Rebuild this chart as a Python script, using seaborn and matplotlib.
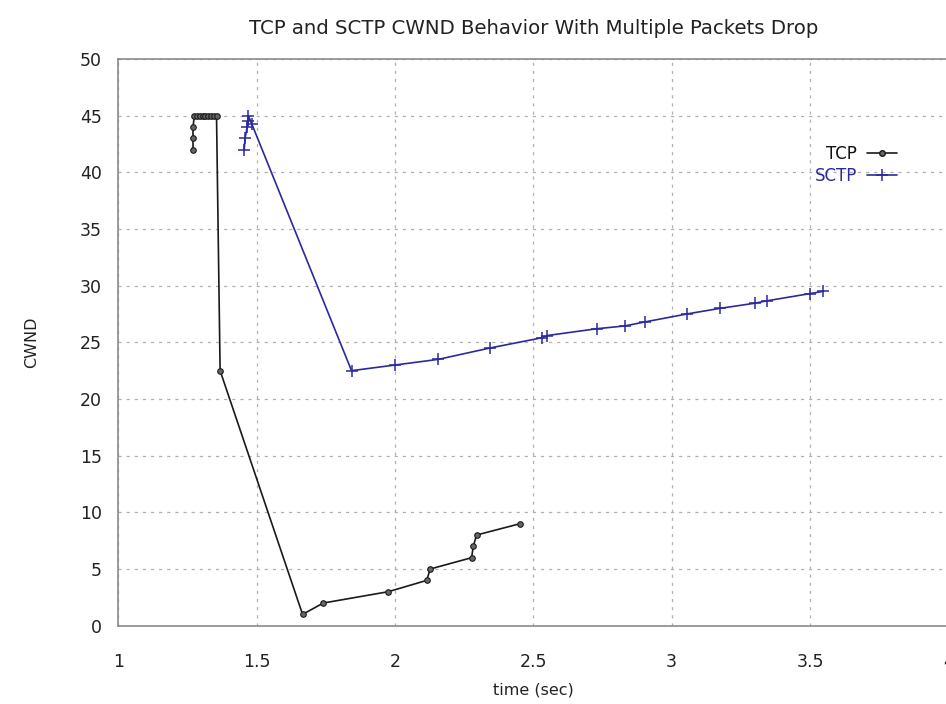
import matplotlib
matplotlib.use("Agg")
import matplotlib.pyplot as plt
import seaborn as sns
import pandas as pd

# ---- data ----
tcp_time = [1.27, 1.27, 1.27, 1.275, 1.285, 1.295, 1.305, 1.315, 1.325, 1.335, 1.345, 1.355,
            1.368, 1.666, 1.741, 1.976, 2.115, 2.127, 2.277, 2.283, 2.295, 2.452]
tcp_cwnd = [42, 43, 44, 45, 45, 45, 45, 45, 45, 45, 45, 45,
            22.5, 1, 2, 3, 4, 5, 6, 7, 8, 9]

sctp_time = [1.455, 1.458, 1.466, 1.47, 1.47, 1.482, 1.843, 2.0, 2.157, 2.343, 2.53, 2.55,
             2.729, 2.831, 2.903, 3.054, 3.175, 3.30, 3.343, 3.50, 3.548]
sctp_cwnd = [42, 43, 44, 44.5, 45, 44.3, 22.5, 23, 23.5, 24.5, 25.4, 25.6,
             26.2, 26.45, 26.8, 27.5, 28, 28.45, 28.66, 29.3, 29.5]

x_ticks = [1, 1.5, 2, 2.5, 3, 3.5, 4]
x_tick_labels = ["1", "1.5", "2", "2.5", "3", "3.5", "4"]
y_ticks = [0, 5, 10, 15, 20, 25, 30, 35, 40, 45, 50]

title = "TCP and SCTP CWND Behavior With Multiple Packets Drop"
xlabel = "time (sec)"
ylabel = "CWND"

sns.set_theme(style="white")
plt.rcParams['font.family'] = ['DejaVu Sans']

fig = plt.figure(figsize=(9.46, 7.04), dpi=100)
ax = fig.add_axes([118.3 / 946, 78.3 / 704, 830 / 946, (625.7 - 59) / 704])

tcp_df = pd.DataFrame({"time": tcp_time, "cwnd": tcp_cwnd})
sctp_df = pd.DataFrame({"time": sctp_time, "cwnd": sctp_cwnd})

tcp_color = "#1a1a1a"
sctp_color = "#2a2a9c"

sns.lineplot(data=tcp_df, x="time", y="cwnd", sort=False, estimator=None, ax=ax,
             color=tcp_color, lw=1.2, marker="o", markersize=4,
             markerfacecolor="#666666", markeredgecolor=tcp_color, markeredgewidth=0.8)
sns.lineplot(data=sctp_df, x="time", y="cwnd", sort=False, estimator=None, ax=ax,
             color=sctp_color, lw=1.2, marker="+", markersize=8,
             markeredgecolor=sctp_color, markeredgewidth=1.1)

ax.set_xlim(1, 4)
ax.set_ylim(0, 50)
ax.set_xticks(x_ticks)
ax.set_xticklabels(x_tick_labels)
ax.set_yticks(y_ticks)

ax.grid(True, color="#b0b0b0", linestyle=(0, (2.5, 4)), linewidth=0.9)
for s in ax.spines.values():
    s.set_color("#8a8a8a")
    s.set_linewidth(1.2)

ax.tick_params(axis="both", direction="in", length=4, color="#555555",
               labelsize=12.5, labelcolor="#222222")
ax.tick_params(axis="x", pad=20)
ax.tick_params(axis="y", pad=12)

ax.set_title(title, fontsize=14.2, color="#222222", pad=18)
ax.set_xlabel(xlabel, fontsize=11.5, color="#222222", labelpad=8)
ax.set_ylabel(ylabel, fontsize=11.5, color="#222222", labelpad=29)

from matplotlib.lines import Line2D
handles = [
    Line2D([], [], color=tcp_color, lw=1.2, marker="o", markersize=4,
           markerfacecolor="#666666", markeredgecolor=tcp_color),
    Line2D([], [], color=sctp_color, lw=1.2, marker="+", markersize=8,
           markeredgecolor=sctp_color, markeredgewidth=1.1),
]
leg = ax.legend(handles, ["TCP", "SCTP"], loc="upper right",
                bbox_to_anchor=(912 / 946, 1 - 130 / 704), bbox_transform=fig.transFigure,
                markerfirst=False, frameon=False, fontsize=12, handlelength=1.8,
                labelspacing=0.25, handletextpad=0.6)
leg.get_texts()[0].set_color("#111111")
leg.get_texts()[1].set_color(sctp_color)

fig.savefig("out.png", dpi=100, facecolor="white")
